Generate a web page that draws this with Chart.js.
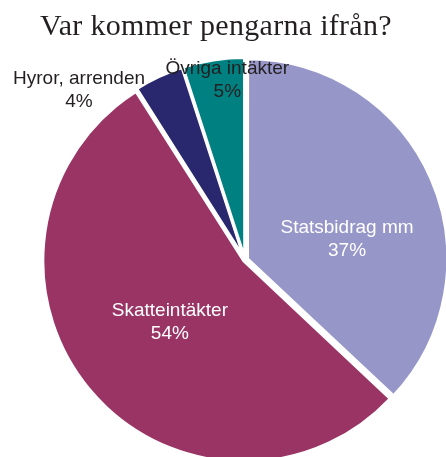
<!DOCTYPE html>
<html><head><meta charset="utf-8">
<script src="https://cdn.jsdelivr.net/npm/chart.js@4"></script>
<style>
html,body{margin:0;padding:0;background:#fff;overflow:hidden;}
#wrap{position:relative;width:446px;height:457px;}
#title{position:absolute;left:0;top:8px;width:432px;text-align:center;font-family:"Liberation Serif","Times New Roman",serif;font-size:30px;line-height:34px;letter-spacing:0.3px;color:#231f20;white-space:nowrap;}
canvas{position:absolute;left:0;top:0;}
</style></head><body>
<div id="wrap"><canvas id="c" width="446" height="457"></canvas><div id="title">Var kommer pengarna ifrån?</div></div>
<script>
// Data
const categories = ["Statsbidrag mm", "Skatteintäkter", "Hyror, arrenden", "Övriga intäkter"];
const percentages = [37, 54, 4, 5];

// Styles
const sliceColors = ["#9696c9", "#9a3465", "#29286f", "#008080"];
const labelColors = ["#ffffff", "#ffffff", "#231f20", "#231f20"];
const sliceOffsets = [11, 6, 7, 7];
const labelAngleShift = [12, 0, -19.2, 3.4];   // degrees from slice mid-angle
const labelRadius = [0.523, 0.49, 1.192, 0.909]; // fraction of radius

const labelPlugin = {
  id: 'sliceLabels',
  afterDatasetsDraw(chart) {
    const meta = chart.getDatasetMeta(0);
    const ctx = chart.ctx;
    const ca = chart.chartArea;
    const cx = (ca.left + ca.right) / 2, cy = (ca.top + ca.bottom) / 2;
    ctx.save();
    ctx.font = '19px "Liberation Sans", Arial, sans-serif';
    ctx.textAlign = 'center';
    ctx.textBaseline = 'middle';
    meta.data.forEach((arc, i) => {
      const p = arc.getProps(['startAngle', 'endAngle', 'outerRadius'], true);
      const mid = (p.startAngle + p.endAngle) / 2 + labelAngleShift[i] * Math.PI / 180;
      const r = 199 * labelRadius[i];
      const x = cx + Math.cos(mid) * r, y = cy + Math.sin(mid) * r;
      const lines = [categories[i], percentages[i] + '%'];
      const lh = 23;
      ctx.fillStyle = labelColors[i];
      lines.forEach((t, k) => {
        ctx.fillText(t, x, y + (k - (lines.length - 1) / 2) * lh);
      });
    });
    ctx.restore();
  }
};

new Chart(document.getElementById('c'), {
  type: 'pie',
  data: {
    labels: categories,
    datasets: [{
      data: percentages,
      backgroundColor: sliceColors,
      borderColor: '#ffffff',
      borderWidth: 3,
      offset: sliceOffsets,
      hoverOffset: 0,
      clip: false
    }]
  },
  options: {
    responsive: false,
    animation: false,
    events: [],
    radius: 199.5,
    layout: { padding: { left: 44, right: 0, top: 63, bottom: 0 } },
    plugins: {
      legend: { display: false },
      tooltip: { enabled: false },
      title: { display: false }
    }
  },
  plugins: [labelPlugin]
});
</script>
</body></html>
